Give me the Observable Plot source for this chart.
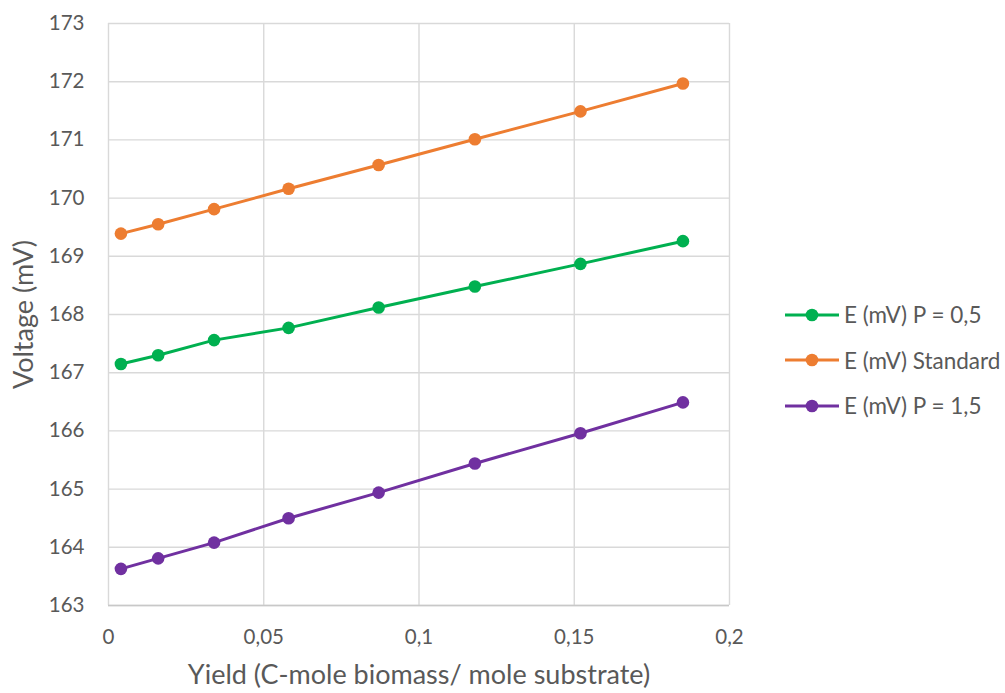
<!DOCTYPE html>
<html>
<head>
<meta charset="utf-8">
<script src="https://cdn.jsdelivr.net/npm/d3@7"></script>
<script src="https://cdn.jsdelivr.net/npm/@observablehq/plot@0.6"></script>
<style>
  html, body { margin: 0; padding: 0; background: #fff; }
  #wrap { position: relative; width: 1005px; height: 693px; font-family: Lato, "Open Sans", sans-serif; }
  #legend { position: absolute; left: 785px; top: 292px; color: #595959; font-size: 22.5px; white-space: nowrap; }
  .item { display: flex; align-items: center; height: 45.5px; }
  .item svg { margin-right: 5px; flex: none; }
</style>
</head>
<body>
<div id="wrap"><div id="legend"></div></div>
<script>
const yields = [0.004, 0.016, 0.034, 0.058, 0.087, 0.118, 0.152, 0.185];
const eP05 = [167.15, 167.30, 167.56, 167.77, 168.12, 168.48, 168.87, 169.26];
const eStandard = [169.39, 169.55, 169.81, 170.16, 170.57, 171.01, 171.49, 171.97];
const eP15 = [163.63, 163.81, 164.08, 164.50, 164.94, 165.44, 165.96, 166.49];
const seriesNames = ["E (mV) P = 0,5", "E (mV) Standard", "E (mV) P = 1,5"];
const seriesColors = ["#00B050", "#ED7D31", "#7030A0"];
const xTicks = [0, 0.05, 0.1, 0.15, 0.2];
const yTicks = [163, 164, 165, 166, 167, 168, 169, 170, 171, 172, 173];
const xTitle = "Yield (C-mole biomass/ mole substrate)";
const yTitle = "Voltage (mV)";

const seriesValues = [eP05, eStandard, eP15];
const data = [];
seriesNames.forEach((name, i) => {
  yields.forEach((x, j) => data.push({series: name, x, y: seriesValues[i][j]}));
});
const fmt = d => String(d).replace(".", ",");
const textColor = "#595959";
const gridColor = "#D9D9D9";

const chart = Plot.plot({
  width: 1005,
  height: 693,
  marginLeft: 108,
  marginRight: 276,
  marginTop: 23,
  marginBottom: 88,
  style: {fontFamily: "Lato, 'Open Sans', sans-serif", background: "#fff"},
  x: {domain: [0, 0.2]},
  y: {domain: [163, 173]},
  color: {domain: seriesNames, range: seriesColors},
  marks: [
    Plot.ruleX(xTicks, {stroke: gridColor, strokeWidth: 1.4}),
    Plot.ruleY(yTicks, {stroke: gridColor, strokeWidth: 1.4}),
    Plot.ruleY([163], {stroke: "#C8C8C8", strokeWidth: 1.6}),
    Plot.axisX({ticks: xTicks, tickSize: 0, tickPadding: 24, tickFormat: fmt, fontSize: 20.5, color: textColor, label: null}),
    Plot.axisY({ticks: yTicks, tickSize: 0, tickPadding: 24, tickFormat: fmt, fontSize: 20.5, color: textColor, label: null}),
    Plot.text([xTitle], {frameAnchor: "bottom", textAnchor: "middle", lineAnchor: "middle", dy: 70, fontSize: 27, fill: textColor}),
    Plot.text([yTitle], {frameAnchor: "left", textAnchor: "middle", lineAnchor: "middle", dx: -84, rotate: -90, fontSize: 27, fill: textColor}),
    Plot.line(data, {x: "x", y: "y", z: "series", stroke: "series", strokeWidth: 3}),
    Plot.dot(data, {x: "x", y: "y", fill: "series", r: 6.3})
  ]
});
const wrap = document.getElementById("wrap");
wrap.insertBefore(chart, wrap.firstChild);

const legend = document.getElementById("legend");
seriesNames.forEach((name, i) => {
  const div = document.createElement("div");
  div.className = "item";
  div.innerHTML = `<svg width="54" height="14"><line x1="0" y1="7" x2="54" y2="7" stroke="${seriesColors[i]}" stroke-width="3"/><circle cx="27" cy="7" r="6.3" fill="${seriesColors[i]}"/></svg><span>${name}</span>`;
  legend.appendChild(div);
});
</script>
</body>
</html>
